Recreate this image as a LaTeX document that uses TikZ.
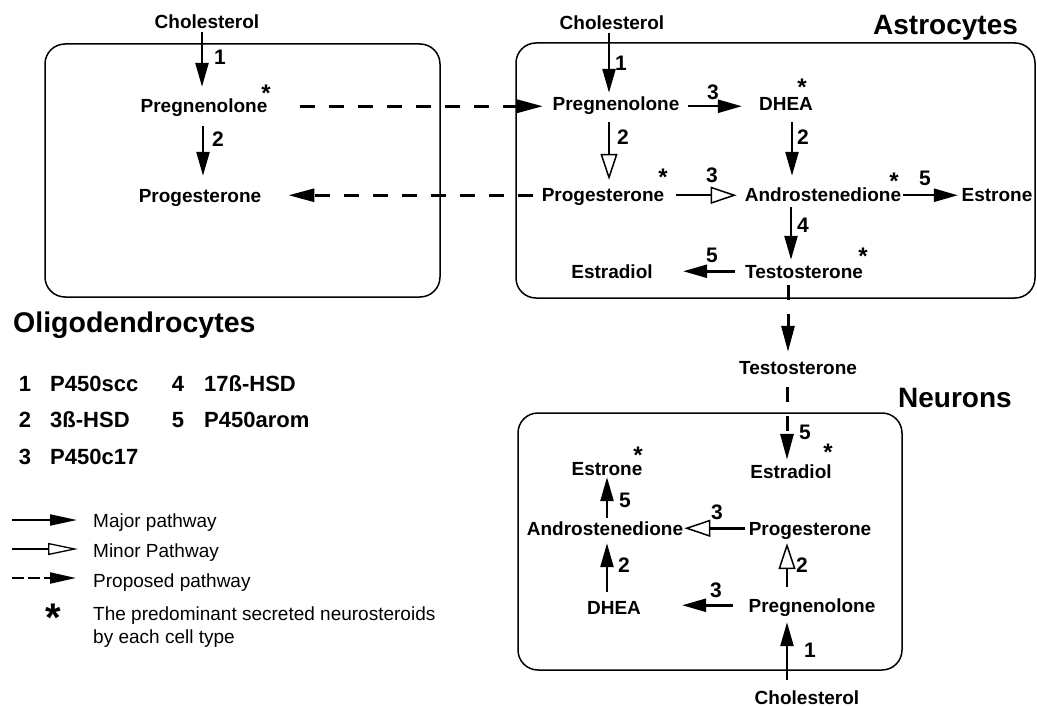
\documentclass[tikz,border=0pt]{standalone}
\usepackage{fontspec}
\setmainfont{Liberation Sans}
\usetikzlibrary{arrows.meta}
\begin{document}
\begin{tikzpicture}[x=1pt,y=-1pt,
  txt/.style={font=\fontsize{19}{21}\selectfont\bfseries, inner sep=0pt, text height=13.5pt, text depth=0pt, anchor=base},
  lbl/.style={font=\fontsize{21}{23}\selectfont\bfseries, inner sep=0pt},
  star/.style={font=\fontsize{24}{26}\selectfont\bfseries, inner sep=0pt, text height=17.2pt, text depth=-9.6pt, anchor=north},
  bigstar/.style={font=\fontsize{40}{42}\selectfont\bfseries, inner sep=0pt, text height=28.6pt, text depth=-16pt, anchor=north},
  cell/.style={draw, line width=1.5pt, rounded corners=20pt},
  title/.style={font=\fontsize{28}{30}\selectfont\bfseries, inner sep=0pt, anchor=base west},
  enznum/.style={font=\fontsize{22}{24}\selectfont\bfseries, inner sep=0pt, anchor=base},
  enz/.style={font=\fontsize{22}{24}\selectfont\bfseries, inner sep=0pt, anchor=base west},
  leg/.style={font=\fontsize{19}{21}\selectfont, inner sep=0pt, anchor=base west},
  major/.style={line width=2.5pt, -{Triangle[length=24pt,width=13pt]}},
  minor/.style={line width=2.5pt, -{Triangle[open,length=26pt,width=17pt,line width=1.5pt]}},
  proposed/.style={line width=3pt, dash pattern=on 15pt off 14pt, -{Triangle[length=26pt,width=13pt]}},
  legmajor/.style={line width=2pt, -{Triangle[length=27pt,width=11pt]}},
  legminor/.style={line width=2pt, -{Triangle[open,length=30pt,width=12pt,line width=1.3pt]}},
  legprop/.style={line width=2pt, dash pattern=on 12pt off 4pt, -{Triangle[length=26pt,width=11pt]}},
]
\useasboundingbox (0,0) rectangle (1037,706);

% cell boxes
\draw[cell] (45,44) rectangle (440,297);
\draw[cell] (516,43) rectangle (1035,298);
\draw[cell] (518,413) rectangle (902,670);

% ---------- Oligodendrocytes ----------
\node[txt] (c1) at (207,29) {Cholesterol};
\node[txt] (p1) at (204,113) {Pregnenolone};
\node[txt] (pr1) at (200,203) {Progesterone};
\node[star] (s1) at (266,84) {*};

% ---------- Astrocytes ----------
\node[title] (astro) at (873,35) {Astrocytes};
\node[txt] (c2) at (612,30) {Cholesterol};
\node[txt] (p2) at (616,111) {Pregnenolone};
\node[txt] (dh2) at (786,111) {DHEA};
\node[txt] (pr2) at (603,202) {Progesterone};
\node[txt] (an2) at (823,202) {Androstenedione};
\node[txt] (es2) at (997,202) {Estrone};
\node[txt] (te2) at (804,278) {Testosterone};
\node[txt] (ed2) at (612,278) {Estradiol};
\node[star] (s2) at (802,78) {*};
\node[star] (s3) at (663,168) {*};
\node[star] (s4) at (894,172) {*};
\node[star] (s5) at (863,247) {*};

% ---------- between ----------
\node[txt] (te3) at (798,374) {Testosterone};

% ---------- Neurons ----------
\node[title] (neur) at (898,407) {Neurons};
\node[txt] (es3) at (607,475) {Estrone};
\node[txt] (ed3) at (791,478) {Estradiol};
\node[txt] (an3) at (605,535) {Androstenedione};
\node[txt] (pr3) at (810,535) {Progesterone};
\node[txt] (dh3) at (614,614) {DHEA};
\node[txt] (pg3) at (812,612) {Pregnenolone};
\node[txt] (ch3) at (807,704) {Cholesterol};
\node[star] (s6) at (638,446) {*};
\node[star] (s7) at (828,443) {*};

% ---------- connectors: oligodendrocytes ----------
\draw[major, shorten <=3pt, shorten >=12.5pt] ([xshift=-5pt]c1.south) -- ([xshift=-5pt]c1.south |- p1.north);
\draw[major, shorten <=13pt, shorten >=13.5pt] ([xshift=-1pt]p1.south) -- ([xshift=-1pt]p1.south |- pr1.north);
\draw[proposed, shorten <=32.5pt, shorten >=9.5pt] (p1.east) -- (p1.east -| p2.west);
\draw[proposed, shorten <=8.7pt, shorten >=27pt] (pr2.west) -- (pr2.west -| pr1.east);

% ---------- connectors: astrocytes ----------
\draw[major, shorten <=3pt, shorten >=4.5pt] ([xshift=-3pt]c2.south) -- ([xshift=-3pt]c2.south |- p2.north);
\draw[major, shorten <=8.7pt, shorten >=17pt] ([yshift=-2pt]p2.east) -- ([yshift=-2pt]p2.east -| dh2.west);
\draw[minor, shorten <=11pt, shorten >=8.5pt] ([xshift=-7pt]p2.south) -- ([xshift=-7pt]p2.south |- pr2.north);
\draw[major, shorten <=11pt, shorten >=12.5pt] ([xshift=6pt]dh2.south) -- ([xshift=6pt]dh2.south |- an2.north);
\draw[minor, shorten <=11.8pt, shorten >=8pt] (pr2.east) -- (pr2.east -| an2.west);
\draw[major, shorten <=2pt, shorten >=3.6pt] (an2.east) -- (an2.east -| es2.west);
\draw[major, shorten <=5pt, shorten >=4.5pt] ([xshift=-32pt]an2.south) -- ([xshift=-32pt]an2.south |- te2.north);
\draw[major, shorten <=10.3pt, shorten >=30.3pt] (te2.west) -- (te2.west -| ed2.east);
\draw[proposed, shorten <=7pt, shorten >=8.5pt] ([xshift=-16pt]te2.south) -- ([xshift=-16pt]te2.south |- te3.north);
\draw[proposed, shorten <=13pt, shorten >=4.5pt] ([xshift=-11pt]te3.south) -- ([xshift=-11pt]te3.south |- ed3.north);

% ---------- connectors: neurons ----------
\draw[major, shorten <=3.5pt, shorten >=2pt] ([xshift=2pt]an3.north) -- ([xshift=2pt]an3.north |- es3.south);
\draw[minor, shorten <=3.8pt, shorten >=1pt] (pr3.west) -- (pr3.west -| an3.east);
\draw[minor, shorten <=11.5pt, shorten >=8pt] ([xshift=-25pt]pg3.north) -- ([xshift=-25pt]pg3.north |- pr3.south);
\draw[major, shorten <=8.5pt, shorten >=8pt] ([xshift=-7pt]dh3.north) -- ([xshift=-7pt]dh3.north |- an3.south);
\draw[major, shorten <=15.7pt, shorten >=41pt] (pg3.west) -- (pg3.west -| dh3.east);
\draw[major, shorten <=10.5pt, shorten >=10pt] ([xshift=-20pt]ch3.north) -- ([xshift=-20pt]ch3.north |- pg3.south);

% ---------- enzyme labels ----------
\node[lbl] (l1) at (220,57) {1};
\node[lbl] (l2) at (218,139) {2};
\node[lbl] (l3) at (621,63) {1};
\node[lbl] (l4) at (713,92) {3};
\node[lbl] (l5) at (623,137) {2};
\node[lbl] (l6) at (803,137) {2};
\node[lbl] (l7) at (712,175) {3};
\node[lbl] (l8) at (925,178) {5};
\node[lbl] (l9) at (803,225) {4};
\node[lbl] (l10) at (712,255) {5};
\node[lbl] (l11) at (805,432) {5};
\node[lbl] (l12) at (625,500) {5};
\node[lbl] (l13) at (717,512) {3};
\node[lbl] (l14) at (802,565) {2};
\node[lbl] (l15) at (624,565) {2};
\node[lbl] (l16) at (716,590) {3};
\node[lbl] (l17) at (810,650) {1};

% ---------- legend ----------
\node[title, font=\fontsize{28.5}{30}\selectfont\bfseries] (olig) at (13,332) {Oligodendrocytes};
\node[enznum] (e1n) at (25,391) {1};
\node[enz] (e1) at (50,391) {P450scc};
\node[enznum] (e2n) at (25,427) {2};
\node[enz] (e2) at (50,427) {3ß-HSD};
\node[enznum] (e3n) at (25,464) {3};
\node[enz] (e3) at (50,464) {P450c17};
\node[enznum] (e4n) at (178,391) {4};
\node[enz] (e4) at (204,391) {17ß-HSD};
\node[enznum] (e5n) at (178,427) {5};
\node[enz] (e5) at (204,427) {P450arom};

\coordinate (ma0) at (12,520); \coordinate (ma1) at (77,520);
\coordinate (mi0) at (12,549); \coordinate (mi1) at (78,549);
\coordinate (pp0) at (12,578); \coordinate (pp1) at (76,578);
\draw[legmajor] (ma0) -- (ma1);
\draw[legminor] (mi0) -- (mi1);
\draw[legprop] (pp0) -- (pp1);
\node[leg] (t1) at (93,527) {Major pathway};
\node[leg] (t2) at (93,557) {Minor Pathway};
\node[leg] (t3) at (93,587) {Proposed pathway};
\node[bigstar] (ls) at (53,603) {*};
\node[leg] (t4) at (93,620) {The predominant secreted neurosteroids};
\node[leg] (t5) at (93,643) {by each cell type};
\end{tikzpicture}
\end{document}
